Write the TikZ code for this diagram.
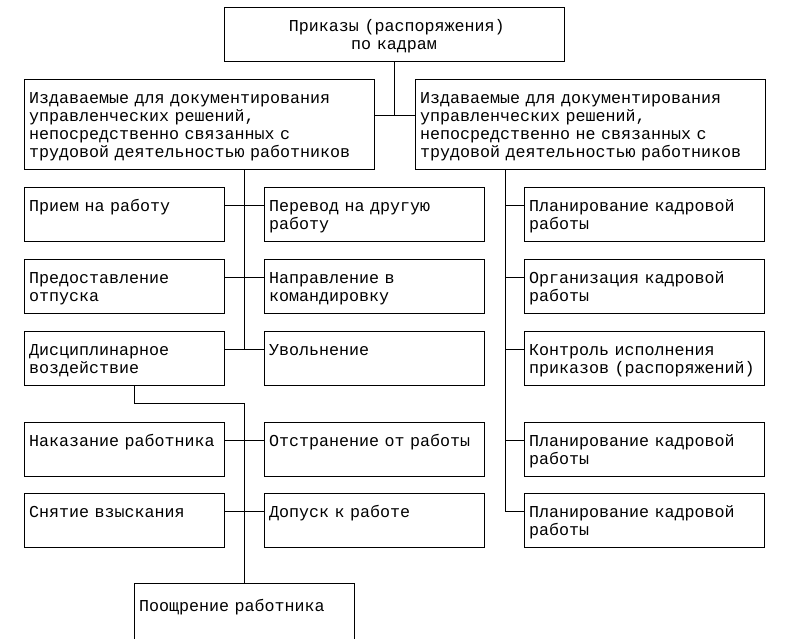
\documentclass[tikz,border=0pt]{standalone}
\usepackage{fontspec}
\newfontfamily\docfont{Liberation Mono}
\tikzset{
  docbox/.style={
    draw, anchor=north west, align=left,
    inner xsep=5pt, inner ysep=0pt, outer sep=0pt,
    font=\fontsize{16.67pt}{18pt}\docfont,
    execute at begin node=\rule{0pt}{17.6pt},
    execute at end node=\strut
  },
  boxtop/.style={docbox, align=center, text width=330pt, minimum height=54pt},
  boxdoc/.style={docbox, text width=340pt, minimum height=90pt},
  boxA/.style={docbox, text width=190pt, minimum height=54pt},
  boxB/.style={docbox, text width=210pt, minimum height=54pt},
  boxC/.style={docbox, text width=230pt, minimum height=54pt}
}

\begin{document}
\begin{tikzpicture}[x=1pt,y=-1pt,line width=1pt]
	\clip (0,0) rectangle (789,638);
	\fill[white] (0,0) rectangle (789,638);
	% top
	\node[boxtop] (prikazy) at (224,7) {~Приказы (распоряжения)\\по кадрам};
	\node[boxdoc] (izdA) at (24,79) {Издаваемые для документирования\\управленческих решений,\\непосредственно связанных с\\трудовой деятельностью работников};
	\node[boxdoc] (izdB) at (415,79) {Издаваемые для документирования\\управленческих решений,\\непосредственно не связанных с\\трудовой деятельностью работников};
	% left branch
	\node[boxA] (priem) at (24,187) {Прием на работу\\};
	\node[boxA] (otpusk) at (24,259) {Предоставление\\отпуска};
	\node[boxA] (discip) at (24,331) {Дисциплинарное\\воздействие};
	\node[boxA] (nakaz) at (24,422) {Наказание работника\\};
	\node[boxA] (snyatie) at (24,493) {Снятие взыскания\\};
	\node[boxB] (perevod) at (264,187) {Перевод на другую\\работу};
	\node[boxB] (komand) at (264,259) {Направление в\\командировку};
	\node[boxB] (uvoln) at (264,331) {Увольнение\\};
	\node[boxB] (otstran) at (264,422) {Отстранение от работы\\};
	\node[boxB] (dopusk) at (264,493) {Допуск к работе\\};
	\node[boxB, minimum height=62pt] (pooshr) at (134,583) {Поощрение работника\\};
	% right branch
	\node[boxC] (plan1) at (524,187) {Планирование кадровой\\работы};
	\node[boxC] (org) at (524,259) {Организация кадровой\\работы};
	\node[boxC] (kontrol) at (524,331) {Контроль исполнения\\приказов (распоряжений)};
	\node[boxC] (plan2) at (524,422) {Планирование кадровой\\работы};
	\node[boxC] (plan3) at (524,493) {Планирование кадровой\\работы};
	% connectors
	\coordinate (hub) at (394,115);
	\draw (prikazy.south) -- (hub);
	\draw (izdA.east |- hub) -- (izdB.west |- hub);
	\draw (pooshr.north |- izdA.south) -- ([yshift=-18pt]uvoln.north west -| pooshr.north);
	\foreach \a/\b in {priem/perevod,otpusk/komand,discip/uvoln,nakaz/otstran,snyatie/dopusk}
		\draw ([yshift=-18pt]\a.north east) -- ([yshift=-18pt]\b.north west);
	\draw (discip.south -| pooshr.north west) -- ++(0,18) -| (pooshr.north);
	\draw ([xshift=-19pt]plan1.west |- izdB.south) -- ([xshift=-19pt,yshift=-18pt]plan3.north west);
	\foreach \n in {plan1,org,kontrol,plan2,plan3}
		\draw ([yshift=-18pt]\n.north west) -- ++(-19,0);
\end{tikzpicture}
\end{document}
